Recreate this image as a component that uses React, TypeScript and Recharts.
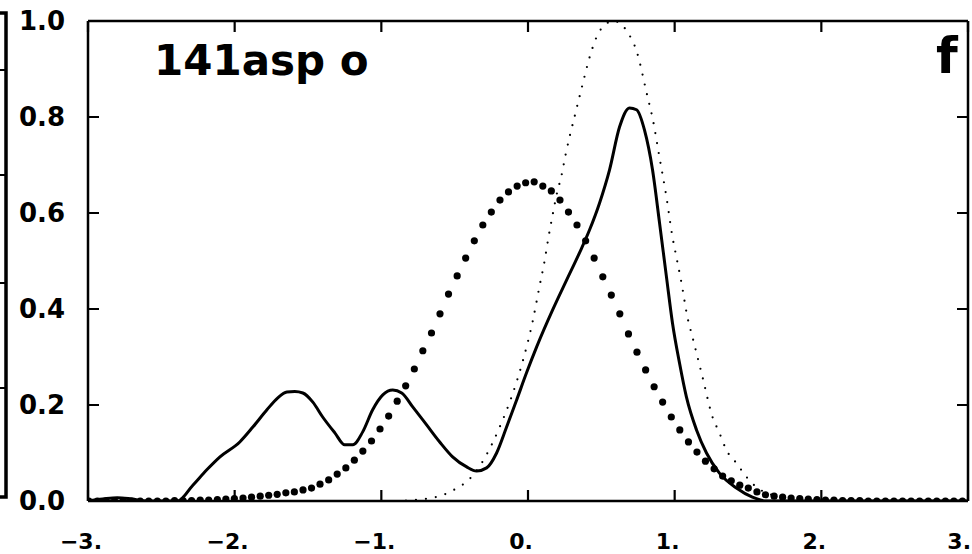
import { LineChart, Line, XAxis, YAxis } from 'recharts';

// solid curve
const solidX = [-3.0, -2.9, -2.8, -2.7, -2.6, -2.39, -2.285, -2.19, -2.1, -1.965, -1.876, -1.78, -1.706, -1.644, -1.59, -1.535, -1.467, -1.4, -1.317, -1.249, -1.195, -1.127, -1.059, -0.99, -0.922, -0.861, -0.786, -0.69, -0.602, -0.514, -0.418, -0.35, -0.282, -0.214, -0.146, -0.078, -0.01, 0.059, 0.168, 0.263, 0.351, 0.42, 0.488, 0.556, 0.624, 0.692, 0.74, 0.794, 0.849, 0.897, 0.944, 0.985, 1.033, 1.08, 1.149, 1.217, 1.305, 1.421, 1.53, 1.625, 2.0, 3.0];
const solidY = [0.0, 0.004, 0.007, 0.004, 0.0, 0.0, 0.033, 0.065, 0.092, 0.123, 0.154, 0.19, 0.215, 0.227, 0.228, 0.225, 0.206, 0.175, 0.142, 0.117, 0.117, 0.144, 0.19, 0.221, 0.231, 0.225, 0.196, 0.158, 0.123, 0.092, 0.071, 0.0625, 0.069, 0.1, 0.154, 0.21, 0.267, 0.321, 0.398, 0.46, 0.517, 0.565, 0.621, 0.69, 0.779, 0.819, 0.815, 0.773, 0.69, 0.579, 0.467, 0.371, 0.2875, 0.217, 0.148, 0.1, 0.058, 0.027, 0.008, 0.0, 0.0, 0.0];

// fine dotted curve
const fineX = [-0.9, -0.75, -0.63, -0.56, -0.507, -0.45, -0.398, -0.316, -0.248, -0.193, -0.12, -0.037, 0.031, 0.079, 0.113, 0.14, 0.168, 0.195, 0.229, 0.256, 0.283, 0.317, 0.351, 0.44, 0.488, 0.583, 0.678, 0.74, 0.815, 0.849, 0.897, 0.944, 0.985, 1.012, 1.046, 1.087, 1.121, 1.19, 1.258, 1.305, 1.353, 1.421, 1.49, 1.557, 1.65, 1.75, 1.85, 2.0];
const fineY = [0.0, 0.003, 0.008, 0.015, 0.023, 0.033, 0.046, 0.079, 0.117, 0.154, 0.21, 0.29, 0.373, 0.448, 0.5, 0.55, 0.596, 0.638, 0.679, 0.721, 0.758, 0.8, 0.842, 0.944, 0.979, 1.0, 0.977, 0.9375, 0.842, 0.798, 0.715, 0.633, 0.55, 0.508, 0.455, 0.383, 0.342, 0.258, 0.175, 0.142, 0.106, 0.079, 0.05, 0.029, 0.014, 0.006, 0.002, 0.0];

// large-dot sample points
const bigX = [-2.994, -2.936, -2.878, -2.819, -2.761, -2.702, -2.644, -2.586, -2.527, -2.469, -2.41, -2.352, -2.294, -2.235, -2.177, -2.118, -2.06, -2.002, -1.943, -1.885, -1.826, -1.768, -1.71, -1.651, -1.593, -1.534, -1.476, -1.418, -1.359, -1.301, -1.242, -1.184, -1.126, -1.067, -1.009, -0.95, -0.892, -0.834, -0.775, -0.717, -0.658, -0.6, -0.542, -0.483, -0.425, -0.366, -0.308, -0.25, -0.191, -0.133, -0.074, -0.016, 0.042, 0.101, 0.159, 0.218, 0.276, 0.334, 0.393, 0.451, 0.51, 0.568, 0.626, 0.685, 0.743, 0.802, 0.86, 0.918, 0.977, 1.035, 1.094, 1.152, 1.21, 1.269, 1.327, 1.386, 1.444, 1.502, 1.561, 1.619, 1.678, 1.736, 1.794, 1.853, 1.911, 1.97, 2.028, 2.086, 2.145, 2.203, 2.262, 2.32, 2.378, 2.437, 2.495, 2.554, 2.612, 2.67, 2.729, 2.787, 2.846, 2.904, 2.962];
const bigY = [0, 0, 0, 0, 0, 0, 0, 0, 0, 0,
  0.001, 0.001, 0.001, 0.002, 0.002, 0.003, 0.004, 0.005, 0.006, 0.008,
  0.01, 0.012, 0.014,
  0.017, 0.019, 0.023, 0.027, 0.035, 0.044, 0.056, 0.069, 0.085, 0.104,
  0.125, 0.15, 0.177, 0.208, 0.24, 0.275, 0.313, 0.35, 0.39, 0.431,
  0.469, 0.506, 0.542, 0.575, 0.602, 0.627, 0.644, 0.656, 0.663, 0.665,
  0.656, 0.646, 0.627, 0.602, 0.575, 0.542, 0.506, 0.467, 0.429, 0.39,
  0.348, 0.31, 0.273, 0.238, 0.206, 0.175, 0.148, 0.123, 0.102, 0.083,
  0.067, 0.052, 0.042, 0.033, 0.027, 0.019, 0.013,
  0.01, 0.008, 0.006, 0.005, 0.004, 0.003, 0.002, 0.002, 0.001, 0.001, 0.001,
  0, 0, 0, 0, 0, 0, 0, 0, 0, 0, 0, 0];

const xTicks = [-3, -2, -1, 0, 1, 2, 3];
const xTickLabels = ['\u22123.', '\u22122.', '\u22121.', '0.', '1.', '2.', '3.'];
const yTicks = [0, 0.2, 0.4, 0.6, 0.8, 1.0];
const yTickLabels = ['0.0', '0.2', '0.4', '0.6', '0.8', '1.0'];

const toPoints = (xs: number[], ys: number[]) => xs.map((x, i) => ({ x, y: ys[i] }));

const solidData = toPoints(solidX, solidY);
const fineData = toPoints(fineX, fineY);
const bigData = toPoints(bigX, bigY);

const FONT = 'DejaVu Sans';
const TICK = 11;
const axisLine = { stroke: '#000', strokeWidth: 2.5 };
const labelStyle = { fill: '#000', fontWeight: 'bold' as const, fontFamily: FONT };

// tick renderers: x/y arrive on the axis line (tickSize and tickMargin are 0),
// so the inward tick mark and the label are drawn from there
const BottomTick = (p: any) => {
  const last = p.index === xTicks.length - 1;
  return (
    <g>
      <line x1={p.x} y1={p.y} x2={p.x} y2={p.y - TICK} stroke="#000" strokeWidth={2.2} />
      <text
        x={last ? p.x + 3 : p.x - 7}
        y={p.y + 48}
        textAnchor={last ? 'end' : 'middle'}
        fontSize={22}
        {...labelStyle}
      >
        {xTickLabels[p.index]}
      </text>
    </g>
  );
};

const TopTick = (p: any) => (
  <line x1={p.x} y1={p.y} x2={p.x} y2={p.y + TICK} stroke="#000" strokeWidth={2.2} />
);

const LeftTick = (p: any) => (
  <g>
    <line x1={p.x} y1={p.y} x2={p.x + TICK} y2={p.y} stroke="#000" strokeWidth={2} />
    <text x={p.x - 23} y={p.y + 9} textAnchor="end" fontSize={26} {...labelStyle}>
      {yTickLabels[p.index]}
    </text>
  </g>
);

const RightTick = (p: any) => (
  <line x1={p.x} y1={p.y} x2={p.x - TICK} y2={p.y} stroke="#000" strokeWidth={2} />
);

const BigDot = (p: any) => (
  <circle key={`bd-${p.index}`} cx={p.cx} cy={p.cy} r={3.6} fill="#000" />
);

export default function App() {
  return (
    <div style={{ position: 'absolute', left: 0, top: 0, width: 972, height: 554, background: '#fff', overflow: 'hidden' }}>
      <LineChart width={972} height={554} margin={{ top: 20, right: 3, bottom: 0, left: 0 }}>
        <XAxis
          xAxisId="b"
          dataKey="x"
          type="number"
          domain={[-3, 3]}
          ticks={xTicks}
          interval={0}
          height={53}
          tickSize={0}
          tickMargin={0}
          axisLine={axisLine}
          tickLine={false}
          tick={BottomTick}
          allowDataOverflow
        />
        <XAxis
          xAxisId="t"
          orientation="top"
          dataKey="x"
          type="number"
          domain={[-3, 3]}
          ticks={xTicks}
          interval={0}
          height={1}
          tickSize={0}
          tickMargin={0}
          axisLine={axisLine}
          tickLine={false}
          tick={TopTick}
          allowDataOverflow
        />
        <YAxis
          yAxisId="l"
          type="number"
          domain={[0, 1]}
          ticks={yTicks}
          interval={0}
          width={88}
          tickSize={0}
          tickMargin={0}
          axisLine={axisLine}
          tickLine={false}
          tick={LeftTick}
          allowDataOverflow
        />
        <YAxis
          yAxisId="r"
          orientation="right"
          type="number"
          domain={[0, 1]}
          ticks={yTicks}
          interval={0}
          width={1}
          tickSize={0}
          tickMargin={0}
          axisLine={axisLine}
          tickLine={false}
          tick={RightTick}
          allowDataOverflow
        />
        <Line
          xAxisId="b"
          yAxisId="l"
          data={solidData}
          dataKey="y"
          type="monotone"
          stroke="#000"
          strokeWidth={3}
          dot={false}
          activeDot={false}
          isAnimationActive={false}
        />
        <Line
          xAxisId="b"
          yAxisId="l"
          data={fineData}
          dataKey="y"
          type="monotone"
          stroke="#000"
          strokeWidth={2.2}
          strokeDasharray="0 10"
          strokeLinecap="round"
          dot={false}
          activeDot={false}
          isAnimationActive={false}
        />
        <Line
          xAxisId="b"
          yAxisId="l"
          data={bigData}
          dataKey="y"
          stroke="transparent"
          strokeWidth={0}
          dot={BigDot}
          activeDot={false}
          isAnimationActive={false}
        />
        {/* invisible copy so the top and right frame axes get drawn */}
        <Line
          xAxisId="t"
          yAxisId="r"
          data={solidData}
          dataKey="y"
          stroke="transparent"
          strokeWidth={0}
          dot={false}
          activeDot={false}
          isAnimationActive={false}
        />
      </LineChart>
      <svg width={972} height={554} style={{ position: 'absolute', left: 0, top: 0, pointerEvents: 'none' }}>
        {/* edge of the neighbouring panel */}
        <path d="M0 13 H6 V497 H0" fill="none" stroke="#000" strokeWidth={3.5} />
        <path d="M0 70 H6 M0 175 H6 M0 283 H6 M0 388 H6" stroke="#000" strokeWidth={2} />
        <text x={154} y={75} fontFamily={FONT} fontWeight="bold" fontSize={42} fill="#000">141asp o</text>
        <text x={936} y={73} fontFamily={FONT} fontWeight="bold" fontSize={50} fill="#000">f</text>
      </svg>
    </div>
  );
}
